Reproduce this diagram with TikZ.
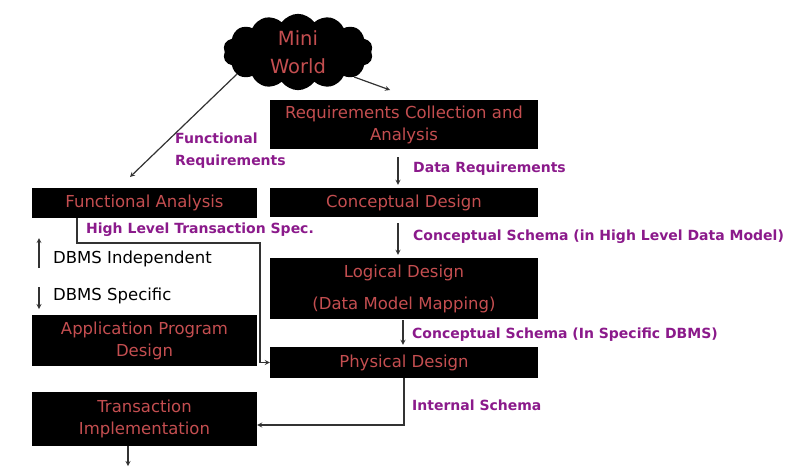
\documentclass[tikz,border=0pt]{standalone}
\usepackage{fontspec}
\setmainfont{DejaVu Sans}
\usetikzlibrary{arrows,shapes.symbols,positioning,calc}
\definecolor{boxred}{RGB}{196,78,80}
\definecolor{flowpurple}{RGB}{139,26,139}
\definecolor{edgegray}{RGB}{50,50,50}

\begin{document}
\begin{tikzpicture}[x=1pt,y=-1pt,
  box/.style={fill=black,text=boxred,align=center,inner sep=0pt,font=\fontsize{16.5}{22}\selectfont},
  flowtext/.style={text=flowpurple,anchor=west,align=left,inner sep=0pt,font=\fontsize{14}{22}\selectfont\bfseries},
  note/.style={text=black,anchor=west,inner sep=0pt,font=\fontsize{16.5}{20}\selectfont},
  edge/.style={line width=1.2pt,draw=edgegray,->,>=stealth}]
\useasboundingbox (0,0) rectangle (794,475);
\node(world)[cloud,cloud puffs=14,cloud puff arc=110,aspect=2.4,fill=black,inner sep=0pt,minimum width=150pt,minimum height=70pt,text=boxred,align=center,font=\fontsize{19.5}{28}\selectfont] at (298,52) {Mini\\World};
\node(req)[box,minimum width=268pt,minimum height=49pt] at (404,124.5) {Requirements Collection and\\Analysis};
\node(concept)[box,minimum width=268pt,minimum height=29pt] at (404,202.5) {Conceptual Design};
\node(logical)[box,minimum width=268pt,minimum height=61pt] at (404,288.5) {Logical Design\\[10pt](Data Model Mapping)};
\node(phys)[box,minimum width=268pt,minimum height=31pt] at (404,362.5) {Physical Design};
\node(func)[box,minimum width=225pt,minimum height=30pt] at (144.5,203) {Functional Analysis};
\node(app)[box,minimum width=225pt,minimum height=51pt] at (144.5,340.5) {Application Program\\Design};
\node(trans)[box,minimum width=225pt,minimum height=54pt] at (144.5,419) {Transaction\\Implementation};
\node(funcreq)[flowtext] at (175,151) {Functional\\Requirements};
\node(hlspec)[flowtext] at (86,230) {High Level Transaction Spec.};
\node(datareq)[flowtext] at (413,169) {Data Requirements};
\node(cschema)[flowtext] at (413,237) {Conceptual Schema (in High Level Data Model)};
\node(sschema)[flowtext] at (412,335) {Conceptual Schema (In Specific DBMS)};
\node(ischema)[flowtext] at (412,405) {Internal Schema};
\node(indep)[note] at (53,259) {DBMS Independent};
\node(specific)[note] at (53,296) {DBMS Specific};
\coordinate (funcend) at (130,177);
\coordinate (reqend) at (390,90);
\coordinate (turn) at (260,243);
\coordinate (done) at (128,466);
\draw [edge] (world.200) -- (funcend);
\draw [edge] (world.-24) -- (reqend);
\draw [edge,shorten <=8pt,shorten >=3pt] ([xshift=-6pt]req.south) -- ([xshift=-6pt]concept.north);
\draw [edge,shorten <=6pt,shorten >=3pt] ([xshift=-6pt]concept.south) -- ([xshift=-6pt]logical.north);
\draw [edge,shorten <=1pt,shorten >=2pt] ([xshift=-1pt]logical.south) -- ([xshift=-1pt]phys.north);
\draw [edge] ([xshift=-67.5pt]func.south) |- (turn) |- (phys.west);
\draw [edge] (phys.south) |- ([yshift=-6pt]trans.east);
\draw [edge] ([xshift=-16.5pt]trans.south) -- (done);
\draw [edge] ([xshift=-14pt,yshift=-9pt]indep.west) -- ([xshift=-14pt,yshift=21pt]indep.west);
\draw [edge] ([xshift=-14pt,yshift=9pt]specific.west) -- ([xshift=-14pt,yshift=-13pt]specific.west);
\end{tikzpicture}
\end{document}
